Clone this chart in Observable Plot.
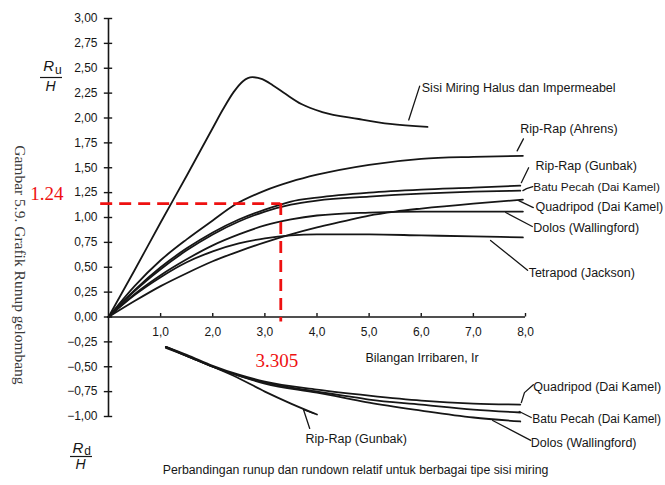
<!DOCTYPE html>
<html><head><meta charset="utf-8">
<script src="https://cdn.jsdelivr.net/npm/d3@7"></script>
<script src="https://cdn.jsdelivr.net/npm/@observablehq/plot@0.6"></script>
<style>
html,body{margin:0;padding:0;background:#fff;}
#chart svg{display:block;}
</style></head><body><div id="chart"></div>
<script>
// ---- tick values ----
const xTicks = [1, 2, 3, 4, 5, 6, 7, 8];
const yTicks = [-1, -0.75, -0.5, -0.25, 0, 0.25, 0.5, 0.75, 1, 1.25, 1.5, 1.75, 2, 2.25, 2.5, 2.75, 3];

// ---- runup curves (Ir, Ru/H) ----
const sisiHalus = [[0,0],[0.5,0.47],[1.0,0.95],[1.5,1.42],[2.0,1.90],[2.2,2.09],[2.4,2.26],[2.58,2.37],[2.76,2.41],[2.95,2.39],[3.15,2.33],[3.4,2.24],[3.7,2.14],[4.1,2.06],[4.8,1.99],[5.4,1.94],[6.12,1.91]];
const ripRapAhrens = [[0,0],[0.5,0.31],[1.0,0.57],[1.5,0.78],[2.0,0.97],[2.4,1.12],[3.0,1.27],[3.5,1.36],[4.0,1.43],[5.0,1.53],[6.0,1.59],[7.0,1.61],[7.95,1.62]];
const ripRapGunbak = [[0,0],[0.5,0.27],[1.0,0.50],[1.5,0.69],[2.0,0.85],[2.5,0.98],[3.0,1.08],[3.3,1.13],[3.5,1.16],[4.0,1.20],[5.0,1.25],[6.0,1.28],[7.0,1.30],[7.9,1.32]];
const batuPecah = [[0,0],[0.5,0.26],[1.0,0.48],[1.5,0.67],[2.0,0.83],[2.5,0.96],[3.0,1.06],[3.5,1.13],[4.0,1.17],[5.0,1.21],[6.0,1.24],[7.0,1.26],[7.9,1.27]];
const quadripod = [[0,0],[0.5,0.16],[1.0,0.31],[1.5,0.44],[2.0,0.56],[2.5,0.66],[3.0,0.75],[3.5,0.83],[4.0,0.90],[4.5,0.96],[5.0,1.02],[5.5,1.06],[6.0,1.09],[7.0,1.14],[7.95,1.18]];
const dolos = [[0,0],[0.5,0.23],[1.0,0.42],[1.5,0.58],[2.0,0.72],[2.5,0.83],[3.0,0.92],[3.5,0.98],[4.0,1.02],[5.0,1.05],[6.0,1.06],[7.0,1.06],[7.95,1.06]];
const tetrapod = [[0,0],[0.5,0.22],[1.0,0.40],[1.5,0.55],[2.0,0.66],[2.5,0.74],[3.0,0.79],[3.5,0.82],[4.0,0.83],[5.0,0.83],[6.0,0.82],[7.0,0.81],[7.95,0.80]];

// ---- rundown curves (Ir, Rd/H) ----
const rdQuadripod = [[1.1,-0.30],[1.5,-0.38],[2.0,-0.49],[2.5,-0.58],[3.0,-0.65],[4.0,-0.73],[5.0,-0.79],[6.0,-0.84],[7.0,-0.87],[7.9,-0.88]];
const rdBatuPecah = [[1.1,-0.30],[1.5,-0.39],[2.0,-0.50],[2.5,-0.59],[3.0,-0.66],[4.0,-0.75],[4.5,-0.79],[5.0,-0.83],[6.0,-0.88],[7.0,-0.93],[7.9,-0.96]];
const rdDolos = [[1.1,-0.31],[1.5,-0.39],[2.0,-0.50],[2.5,-0.59],[3.0,-0.67],[4.0,-0.76],[4.5,-0.81],[5.0,-0.86],[6.0,-0.94],[7.0,-1.01],[7.9,-1.05]];
const rdRipRapGunbak = [[1.1,-0.30],[1.5,-0.39],[2.0,-0.50],[2.4,-0.59],[3.0,-0.75],[3.5,-0.87],[4.0,-0.98]];

// ---- reading marked in red ----
const readIr = 3.305;
const readRu = 1.14;
const readRuText = "1.24";
const readIrText = "3.305";

// ---- labels ----
const curveLabels = [
  {text: "Sisi Miring Halus dan Impermeabel", x: 6.01, y: 2.30, size: 12.5},
  {text: "Rip-Rap (Ahrens)", x: 7.90, y: 1.89, size: 12.5},
  {text: "Rip-Rap (Gunbak)", x: 8.19, y: 1.52, size: 12.5},
  {text: "Batu Pecah (Dai Kamel)", x: 8.15, y: 1.30, size: 11.8},
  {text: "Quadripod (Dai Kamel)", x: 8.19, y: 1.11, size: 12.5},
  {text: "Dolos (Wallingford)", x: 8.15, y: 0.89, size: 12.5},
  {text: "Tetrapod (Jackson)", x: 8.06, y: 0.44, size: 12.5},
  {text: "Quadripod (Dai Kamel)", x: 8.15, y: -0.70, size: 12.5},
  {text: "Batu Pecah (Dai Kamel)", x: 8.13, y: -1.03, size: 12},
  {text: "Dolos (Wallingford)", x: 8.10, y: -1.27, size: 12.5},
  {text: "Rip-Rap (Gunbak)", x: 3.78, y: -1.23, size: 12.5}
];
const leaders = [
  [[5.97,2.32],[5.76,1.98]],
  [[7.96,1.79],[7.84,1.67]],
  [[8.06,1.50],[7.92,1.35]],
  [[8.14,1.31],[8.02,1.29],[7.95,1.27]],
  [[8.15,1.10],[7.87,1.17]],
  [[8.13,0.91],[7.62,1.05]],
  [[8.04,0.47],[7.33,0.77]],
  [[8.15,-0.68],[7.98,-0.76],[7.92,-0.86]],
  [[8.11,-1.01],[7.88,-0.95]],
  [[8.10,-1.24],[7.37,-1.04]],
  [[3.86,-1.12],[3.74,-0.93]],
  [[3.74,-0.93],[3.95,-0.97]]
];
const xTitle = "Bilangan Irribaren, Ir";
const caption = "Perbandingan runup dan rundown relatif untuk berbagai tipe sisi miring";
const sideTitle = "Gambar 5.9. Grafik Runup gelombang";

// ---- build tables ----
const runup = [
  ["sisi", sisiHalus], ["ahrens", ripRapAhrens], ["gunbak", ripRapGunbak],
  ["batu", batuPecah], ["quadripod", quadripod], ["dolos", dolos], ["tetrapod", tetrapod]
];
const rundown = [
  ["rq", rdQuadripod], ["rb", rdBatuPecah], ["rd", rdDolos], ["rg", rdRipRapGunbak]
];
const toRows = list => list.flatMap(([name, pts]) => pts.map(([x, y]) => ({series: name, x, y})));
const curveRows = toRows(runup).concat(toRows(rundown));
const leaderRows = leaders.flatMap((pts, i) => pts.map(([x, y]) => ({series: "l" + i, x, y})));

const fmtY = d => (d < 0 ? "\u2212" : "") + Math.abs(d).toFixed(2).replace(".", ",");
const fmtX = d => d.toFixed(1).replace(".", ",");
const ink = "#161616";
const red = "#ee1111";
const sans = "Liberation Sans, Arial, sans-serif";
const serif = "Liberation Serif, Times New Roman, serif";

const chart = Plot.plot({
  width: 665,
  height: 485,
  marginLeft: 108,
  marginRight: 140,
  marginTop: 18,
  marginBottom: 69,
  x: {domain: [0, 8], axis: null},
  y: {domain: [-1, 3], axis: null},
  style: {fontFamily: sans, background: "#fff", color: ink},
  marks: [
    // axes
    Plot.ruleX([0], {y1: -1, y2: 3, stroke: ink, strokeWidth: 1.6}),
    Plot.ruleY(yTicks, {y: d => d, x1: -0.08, x2: 0.08, stroke: ink, strokeWidth: 1.4}),
    Plot.text(yTicks, {x: 0, y: d => d, dx: -11, textAnchor: "end", text: fmtY, fontSize: 12, fill: ink}),
    Plot.ruleY([0], {x1: 0, x2: 8, stroke: ink, strokeWidth: 1.6}),
    Plot.ruleX(xTicks, {x: d => d, y1: 0, y2: 0.035, stroke: ink, strokeWidth: 1.4}),
    Plot.text(xTicks, {x: d => d, y: 0, dy: 15, text: fmtX, fontSize: 12, fill: ink}),
    // curves
    Plot.line(curveRows, {x: "x", y: "y", z: "series", stroke: ink, strokeWidth: 1.8, curve: "monotone-x"}),
    // leaders and labels
    Plot.line(leaderRows, {x: "x", y: "y", z: "series", stroke: ink, strokeWidth: 1.3}),
    Plot.text(curveLabels, {x: "x", y: "y", text: "text", textAnchor: "start", fontSize: d => d.size, fill: ink}),
    Plot.text([xTitle], {x: 4.93, y: -0.41, text: d => d, textAnchor: "start", fontSize: 12.5, fill: ink}),
    Plot.text([caption], {x: 4.74, y: -1.54, text: d => d, fontSize: 12.3, fill: ink}),
    // axis titles Ru/H and Rd/H
    Plot.text(["R"], {x: -1.15, y: 2.52, text: d => d, fontSize: 15, fontStyle: "italic", fill: ink}),
    Plot.text(["u"], {x: -0.96, y: 2.485, text: d => d, fontSize: 12, fill: ink}),
    Plot.ruleY([2.407], {x1: -1.305, x2: -0.882, stroke: ink, strokeWidth: 1.2}),
    Plot.text(["H"], {x: -1.11, y: 2.317, text: d => d, fontSize: 14, fontStyle: "italic", fill: ink}),
    Plot.text(["R"], {x: -0.585, y: -1.322, text: d => d, fontSize: 15, fontStyle: "italic", fill: ink}),
    Plot.text(["d"], {x: -0.40, y: -1.345, text: d => d, fontSize: 12, fill: ink}),
    Plot.ruleY([-1.402], {x1: -0.729, x2: -0.307, stroke: ink, strokeWidth: 1.2}),
    Plot.text(["H"], {x: -0.537, y: -1.487, text: d => d, fontSize: 14, fontStyle: "italic", fill: ink}),
    // side title
    Plot.text([sideTitle], {x: -1.707, y: 0.523, text: d => d, rotate: 90, fontSize: 15.5, fontFamily: serif, fill: "#3a3a3a"}),
    // red reading
    Plot.ruleY([readRu], {x1: -0.15, x2: readIr, stroke: red, strokeWidth: 2.8, strokeDasharray: "12,7"}),
    Plot.ruleX([readIr], {y1: readRu, y2: -0.05, stroke: red, strokeWidth: 2.8, strokeDasharray: "12,7"}),
    Plot.text([readRuText], {x: -1.50, y: 1.235, text: d => d, textAnchor: "start", fontSize: 19, fontFamily: serif, fill: red}),
    Plot.text([readIrText], {x: 2.82, y: -0.44, text: d => d, textAnchor: "start", fontSize: 19, fontFamily: serif, fill: red})
  ]
});
document.getElementById("chart").appendChild(chart);
</script>
</body></html>
